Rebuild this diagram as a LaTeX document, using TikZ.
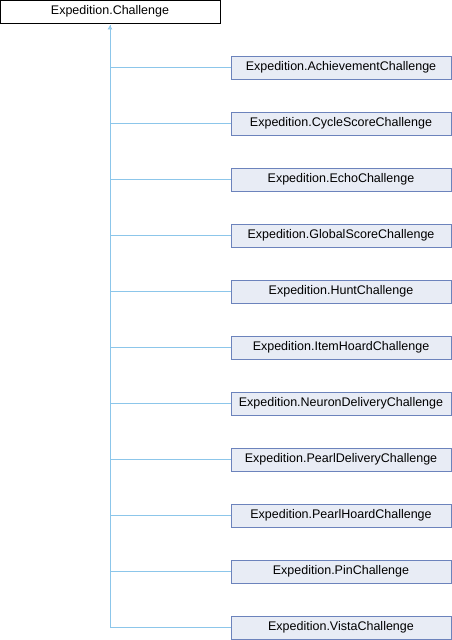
\documentclass[tikz,border=0pt]{standalone}
\usepackage{fontspec}
\setmainfont{Liberation Sans}
\usetikzlibrary{arrows.meta}
\definecolor{boxfill}{HTML}{E8ECF5}
\definecolor{boxline}{HTML}{6C83BC}
\definecolor{edge}{HTML}{8CC6EA}
\tikzset{
  base/.style={draw=black, fill=white, line width=0.9pt, minimum width=220pt, minimum height=23pt, inner sep=0pt, font=\fontsize{12.5}{14}\selectfont},
  derived/.style={base, draw=boxline, fill=boxfill},
  link/.style={draw=edge, line width=0.9pt},
}
\begin{document}
\begin{tikzpicture}[x=1pt,y=-1pt]
\useasboundingbox (0,0) rectangle (452,640);
\node[base] (root) at (110,11.5) {Expedition.Challenge};
\foreach \name [count=\i from 0] in {Achievement,CycleScore,Echo,GlobalScore,Hunt,ItemHoard,NeuronDelivery,PearlDelivery,PearlHoard,Pin,Vista} {
  \node[derived] (c\i) at (341,67.5+56*\i) {Expedition.\name Challenge};
}
\coordinate (trunk) at (110,628);
\draw[link] (trunk) -- ([yshift=-2pt]root.south);
\draw[link, -{Triangle[length=4pt, width=4.5pt, fill=edge!60]}] (110,40) -- ([yshift=-2pt]root.south);
\foreach \i in {0,...,10} {
  \draw[link] (c\i.west) -- (c\i.west -| root.south);
}
\end{tikzpicture}
\end{document}
